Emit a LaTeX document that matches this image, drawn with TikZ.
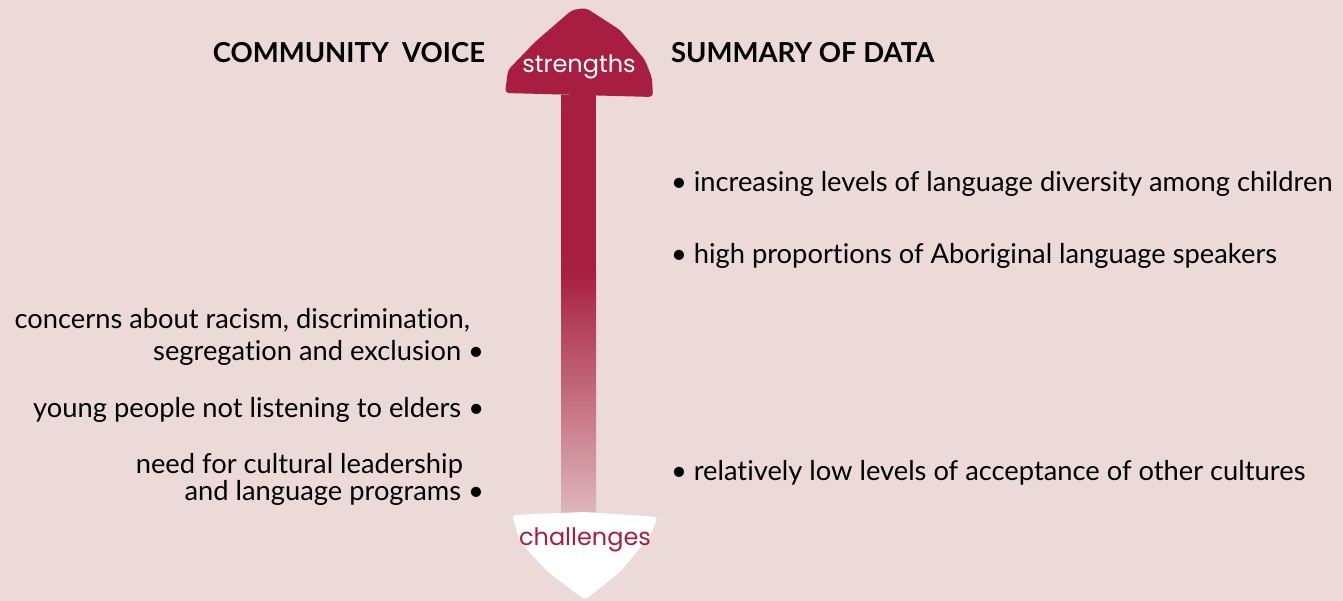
\documentclass[tikz,border=0pt]{standalone}
\usepackage{fontspec}
\setmainfont{Lato}[Ligatures=NoCommon]
\newfontfamily\handfont{Poppins}
\definecolor{bgpink}{RGB}{235,218,215}
\definecolor{wine}{RGB}{167,30,66}

\begin{document}
\begin{tikzpicture}[x=1pt, y=-1pt,
    every node/.style={inner sep=0pt, outer sep=0pt, font=\fontsize{27.3}{30}\selectfont},
    heading/.style={font=\fontsize{27.5}{30}\selectfont\bfseries},
    lefttext/.style={anchor=base east},
    righttext/.style={anchor=base west}]
                % Nền
                \fill[bgpink] (0,0) rectangle (1343,601);
                \useasboundingbox (0,0) rectangle (1343,601);

                % Thân mũi tên
                \fill[wine] (561,95) rectangle (596,272);
                \shade[top color=wine, bottom color=wine!18!bgpink] (561,271) rectangle (596,516);

                % Đầu trên: strengths
                \fill[wine, rounded corners=4pt] (505,93) -- (508,70) -- (535,42) -- (572,10) -- (586,8)
                    -- (620,30) -- (645,60) -- (652,78) -- (653,97) -- cycle;
                \node[white, font=\fontsize{24}{28}\selectfont\handfont] (strengths) at (579,67) {strengths};

                % Đầu dưới: challenges
                \fill[white, rounded corners=4pt] (512,515) -- (585,512) -- (658,517) -- (650,536)
                    -- (620,572) -- (585,600) -- (548,572) -- (520,542) -- cycle;
                \node[wine, font=\fontsize{24}{28}\selectfont\handfont] (challenges) at (585,540) {challenges};

                % Tiêu đề
                \node[heading, anchor=east] (voice) at (485,53) {COMMUNITY\ \ VOICE};
                \node[heading, anchor=west] (summary) at (671,53) {SUMMARY OF DATA};

                % Tóm tắt dữ liệu
                \node[righttext] (diversity) at (671,192) {\textbullet\ increasing levels of language diversity among children};
                \node[righttext] (speakers) at (671,264) {\textbullet\ high proportions of Aboriginal language speakers};
                \node[righttext] (acceptance) at (671,480) {\textbullet\ relatively low levels of acceptance of other cultures};

                % Tiếng nói cộng đồng
                \node[lefttext] (racism) at (470,329) {concerns about racism, discrimination,};
                \node[lefttext] (exclusion) at (484,360) {segregation and exclusion \textbullet};
                \node[lefttext] (elders) at (484,417) {young people not listening to elders \textbullet};
                \node[lefttext] (leadership) at (463,473) {need for cultural leadership};
                \node[lefttext] (programs) at (484,500) {and language programs \textbullet};
            \end{tikzpicture}
\end{document}
